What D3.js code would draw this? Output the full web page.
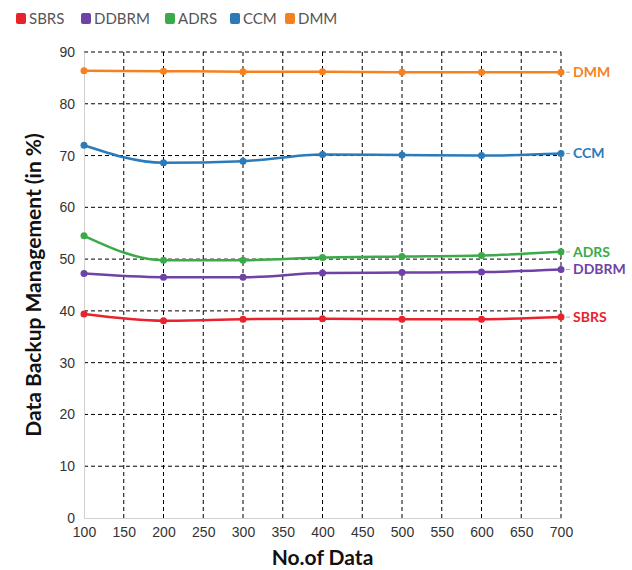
<!DOCTYPE html>
<html>
  <head>
    <script src="https://d3js.org/d3.v7.min.js"></script>
    <style>
      body {margin: 0; background: #fff;}
      svg {font-family: Lato, "Open Sans", sans-serif;}
      .grid line {stroke: #000; stroke-width: 1; stroke-dasharray: 4,3;}
      .axis path, .axis line {stroke: #d0d0d0;}
      .axis text {fill: #333; font-size: 14px;}
    </style>
  </head>
  <body>
    <svg id="chart" width="632" height="570"></svg>
  </body>
  <script>
      let xValues = [100, 200, 300, 400, 500, 600, 700];
      let seriesNames = ["SBRS", "DDBRM", "ADRS", "CCM", "DMM"];
      let seriesColors = ["#e8232b", "#6f42a8", "#3bab4a", "#2b7bba", "#f5821f"];
      let sbrs = [39.4, 38.1, 38.4, 38.5, 38.4, 38.4, 38.8];
      let ddbrm = [47.2, 46.5, 46.5, 47.3, 47.4, 47.5, 48.0];
      let adrs = [54.5, 49.8, 49.8, 50.3, 50.5, 50.7, 51.4];
      let ccm = [72.0, 68.6, 68.9, 70.2, 70.1, 70.0, 70.4];
      let dmm = [86.4, 86.3, 86.2, 86.2, 86.1, 86.1, 86.1];
      let xTicks = d3.range(100, 701, 50);
      let yTicks = d3.range(0, 91, 10);

      let values = [sbrs, ddbrm, adrs, ccm, dmm];
      let series = seriesNames.map((name, i) => ({
          name: name, color: seriesColors[i],
          points: xValues.map((x, j) => ({x: x, y: values[i][j]}))
      }));

      let margins = {left: 84, right: 71, top: 52, bottom: 52};
      let width = 632, height = 570;
      let svg = d3.select("#chart");

      let x = d3.scaleLinear().domain([100, 700]).range([margins.left, width - margins.right]);
      let y = d3.scaleLinear().domain([0, 90]).range([height - margins.bottom, margins.top]);

      // dashed grid
      let grid = svg.append("g").attr("class", "grid");
      grid.selectAll("line.v").data(xTicks.slice(1)).enter().append("line")
          .attr("class", "v")
          .attr("x1", d => x(d)).attr("x2", d => x(d))
          .attr("y1", y(0)).attr("y2", y(90));
      grid.selectAll("line.h").data(yTicks.slice(1)).enter().append("line")
          .attr("class", "h")
          .attr("x1", x(100)).attr("x2", x(700))
          .attr("y1", d => y(d)).attr("y2", d => y(d));

      // axes
      svg.append("g").attr("class", "axis")
          .attr("transform", `translate(0,${y(0)})`)
          .call(d3.axisBottom(x).tickValues(xTicks).tickSize(0).tickPadding(9));
      svg.append("g").attr("class", "axis")
          .attr("transform", `translate(${x(100)},0)`)
          .call(d3.axisLeft(y).tickValues(yTicks).tickSize(0).tickPadding(9));

      // lines
      let line = d3.line().x(d => x(d.x)).y(d => y(d.y)).curve(d3.curveMonotoneX);
      let lines = svg.append("g");
      series.forEach(s => {
          lines.append("path").datum(s.points)
              .attr("d", line).attr("fill", "none")
              .attr("stroke", s.color).attr("stroke-width", 2.5);
          lines.selectAll(null).data(s.points).enter().append("circle")
              .attr("cx", d => x(d.x)).attr("cy", d => y(d.y)).attr("r", 3.5)
              .attr("fill", s.color);
          let last = s.points[s.points.length - 1];
          lines.append("line")
              .attr("x1", x(last.x) + 5).attr("x2", x(last.x) + 9)
              .attr("y1", y(last.y)).attr("y2", y(last.y))
              .attr("stroke", "#aaa").attr("stroke-width", 1);
          lines.append("text")
              .attr("x", x(last.x) + 12).attr("y", y(last.y)).attr("dy", "0.35em")
              .attr("fill", s.color).attr("font-size", 14).attr("font-weight", "bold")
              .text(s.name);
      });

      // legend
      let legendX = [16, 81, 165, 230, 285];
      let legend = svg.append("g");
      series.forEach((s, i) => {
          legend.append("rect")
              .attr("x", legendX[i]).attr("y", 13).attr("width", 10).attr("height", 11)
              .attr("rx", 2).attr("fill", s.color);
          legend.append("text")
              .attr("x", legendX[i] + 13).attr("y", 24)
              .attr("fill", "#555").attr("font-size", 15)
              .text(s.name);
      });

      // axis titles
      svg.append("text")
          .attr("x", (x(100) + x(700)) / 2).attr("y", 565)
          .attr("text-anchor", "middle").attr("font-size", 21).attr("font-weight", "bold")
          .attr("fill", "#111").text("No.of Data");
      svg.append("text")
          .attr("transform", `translate(41,${(y(0) + y(90)) / 2}) rotate(-90)`)
          .attr("text-anchor", "middle").attr("font-size", 21).attr("font-weight", "bold")
          .attr("fill", "#111").text("Data Backup Management (in %)");
  </script>
</html>
